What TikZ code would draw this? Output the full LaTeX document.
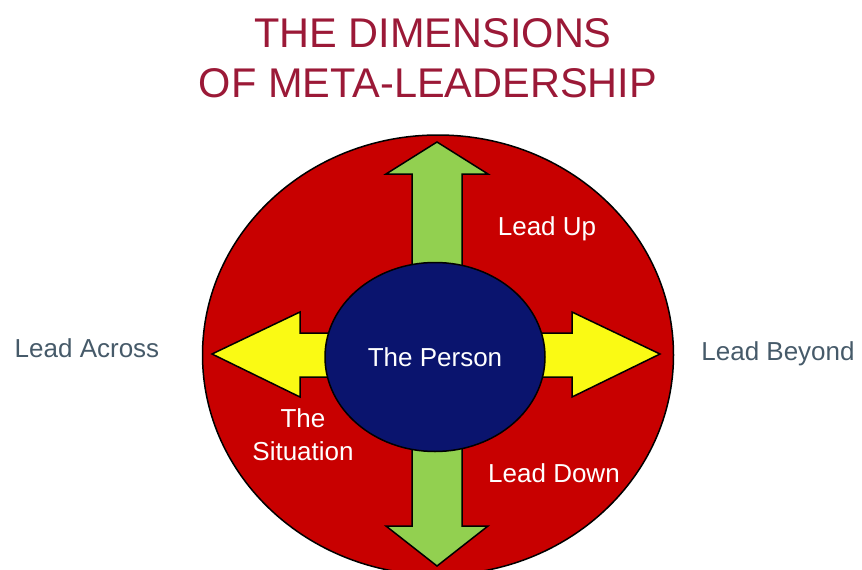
\documentclass[tikz,border=0pt]{standalone}
\usepackage{fontspec}
\setmainfont{Liberation Sans}
\usetikzlibrary{shapes.geometric}
\definecolor{circlered}{RGB}{200,0,0}
\definecolor{arrowgreen}{RGB}{146,208,80}
\definecolor{arrowyellow}{RGB}{250,250,20}
\definecolor{personblue}{RGB}{10,20,110}
\definecolor{titlered}{RGB}{155,25,55}
\definecolor{slate}{RGB}{70,90,105}
\tikzstyle{outline} = [draw=black, line width=1.5pt]
\tikzstyle{titletext} = [text=titlered, font=\fontsize{41.5}{50}\selectfont, anchor=base]
\tikzstyle{whitelabel} = [text=white, font=\fontsize{26}{33}\selectfont, align=center]
\tikzstyle{sidelabel} = [text=slate, font=\fontsize{26}{30}\selectfont, anchor=base]

\begin{document}
\begin{tikzpicture}[x=1pt, y=-1pt]
        \useasboundingbox (0,0) rectangle (862,570);

        \node[titletext] at (433, 47) (TitleTop) {THE DIMENSIONS};
        \node[titletext] at (428, 97) (TitleBottom) {OF META-LEADERSHIP};

        \node[ellipse, outline, fill=circlered, minimum width=471, minimum height=440, inner sep=0] at (438, 355) (Situation) {};

        \filldraw[outline, fill=arrowgreen] (412, 526) -- (412, 174) -- (386, 174) -- (437, 142) -- (488, 174)
            -- (462, 174) -- (462, 526) -- (488, 526) -- (437, 566) -- (386, 526) -- cycle;
        \filldraw[outline, fill=arrowyellow] (300, 333) -- (300, 312) -- (212, 354) -- (300, 397) -- (300, 377)
            -- (572, 377) -- (572, 397) -- (660, 354) -- (572, 312) -- (572, 333) -- cycle;

        \node[ellipse, outline, fill=personblue, minimum width=220, minimum height=189, inner sep=0,
            text=white, font=\fontsize{26}{30}\selectfont] at (435, 357) (Person) {The Person};

        \node[whitelabel, anchor=base] at (547, 235) (LeadUp) {Lead Up};
        \node[whitelabel, anchor=base] at (554, 482) (LeadDown) {Lead Down};
        \node[whitelabel] at (303, 435) (SituationLabel) {The\\Situation};

        \node[sidelabel] at (87, 357) (LeadAcross) {Lead Across};
        \node[sidelabel] at (778, 360) (LeadBeyond) {Lead Beyond};
    \end{tikzpicture}
\end{document}
